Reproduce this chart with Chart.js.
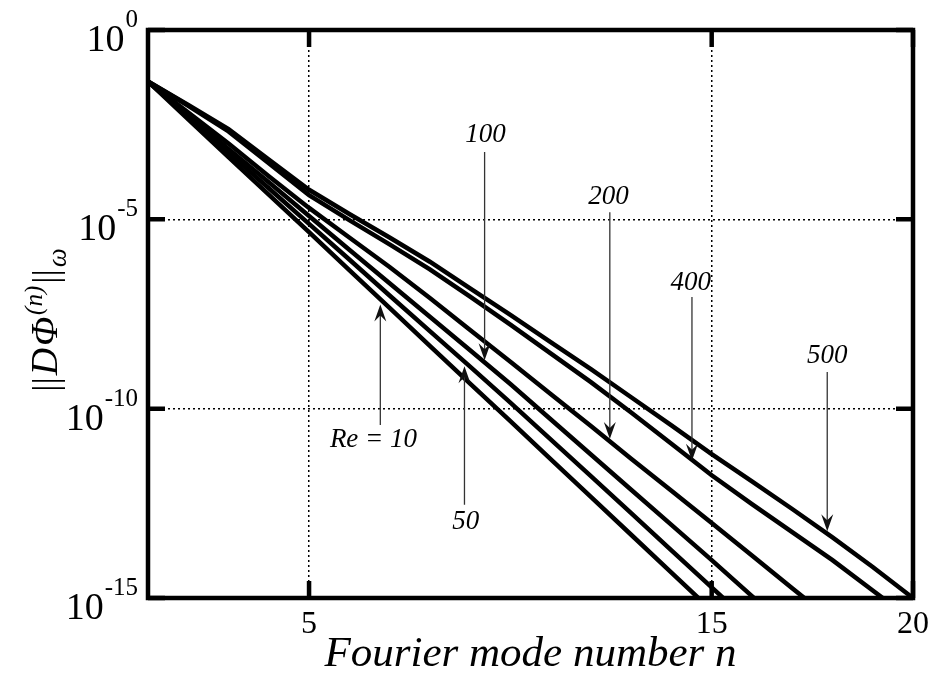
<!DOCTYPE html>
<html>
<head>
<meta charset="utf-8">
<script src="https://cdn.jsdelivr.net/npm/chart.js@4.4.0/dist/chart.umd.min.js"></script>
<style>
  html, body { margin: 0; padding: 0; background: #fff; }
  #wrap { width: 938px; height: 681px; }
</style>
</head>
<body>
<div id="wrap"><canvas id="chart" width="938" height="681"></canvas></div>
<script>
// Fourier mode numbers
const modeNumbers = [1, 2, 3, 4, 5, 6, 7, 8, 9, 10, 11, 12, 13, 14, 15, 16, 17, 18, 19, 20];

// ||D Phi^(n)||_omega, one array per Reynolds number
const norm10  = [4.37e-2, 4.37e-3, 4.37e-4, 4.47e-5, 4.57e-6, 4.57e-7, 4.57e-8, 4.57e-9, 4.57e-10, 4.68e-11, 4.68e-12, 4.68e-13, 4.68e-14, 4.68e-15, 4.68e-16];
const norm50  = [4.37e-2, 5.01e-3, 5.75e-4, 6.61e-5, 7.59e-6, 8.71e-7, 9.77e-8, 1.12e-8, 1.29e-9, 1.45e-10, 1.55e-11, 1.66e-12, 1.74e-13, 1.82e-14, 1.91e-15, 2.00e-16];
const norm100 = [4.37e-2, 5.62e-3, 7.24e-4, 9.55e-5, 1.23e-5, 1.58e-6, 2.04e-7, 2.69e-8, 3.47e-9, 4.47e-10, 5.25e-11, 6.17e-12, 7.24e-13, 8.51e-14, 1.00e-14, 1.12e-15, 1.26e-16];
const norm200 = [4.37e-2, 6.61e-3, 1.00e-3, 1.38e-4, 2.00e-5, 3.31e-6, 5.50e-7, 8.32e-8, 1.20e-8, 1.74e-9, 2.45e-10, 3.47e-11, 4.79e-12, 6.76e-13, 9.55e-14, 1.32e-14, 1.82e-15, 2.51e-16];
const norm400 = [4.37e-2, 1.00e-2, 2.09e-3, 3.02e-4, 4.37e-5, 9.55e-6, 2.19e-6, 4.79e-7, 9.12e-8, 1.66e-8, 2.88e-9, 5.01e-10, 7.94e-11, 1.18e-11, 1.74e-12, 3.02e-13, 5.50e-14, 1.00e-14, 1.58e-15, 2.51e-16];
const norm500 = [4.37e-2, 1.05e-2, 2.40e-3, 3.80e-4, 6.03e-5, 1.38e-5, 3.31e-6, 7.59e-7, 1.51e-7, 3.02e-8, 5.75e-9, 1.10e-9, 2.00e-10, 3.63e-11, 6.31e-12, 1.20e-12, 2.24e-13, 3.98e-14, 6.61e-15, 1.00e-15];

const reynolds = [10, 50, 100, 200, 400, 500];
const normSeries = [norm10, norm50, norm100, norm200, norm400, norm500];

// axis ticks
const xTickValues = [5, 15, 20];
const yTickValues = [1, 1e-5, 1e-10, 1e-15];
const yTickExponents = ['0', '-5', '-10', '-15'];

// curve labels and their arrows (data coordinates)
const annotLabels = ['100', '200', '400', '500', 'Re = 10', '50'];
const annotTextN  = [9.38, 12.44, 14.48, 17.87, 6.6, 8.89];
const annotTextV  = [1.7e-3, 3.9e-5, 2.1e-7, 2.45e-9, 1.48e-11, 1.02e-13];
const arrowN      = [9.36, 12.47, 14.51, 17.87, 6.77, 8.86];
const arrowTailV  = [6.0e-4, 1.55e-5, 8.9e-8, 9.3e-10, 3.7e-11, 2.9e-13];
const arrowTipV   = [1.9e-9, 1.58e-11, 4.2e-12, 5.75e-14, 5.6e-8, 1.32e-9];

const serif = "'Liberation Serif', 'Times New Roman', serif";

const datasets = normSeries.map((vals, k) => ({
    label: 'Re = ' + reynolds[k],
    data: vals.map((v, i) => ({ x: modeNumbers[i], y: v })),
    borderColor: '#000',
    borderWidth: 4.5,
    pointRadius: 0,
    tension: 0,
    fill: false
}));

const framePlugin = {
    id: 'frame',
    afterDraw(chart) {
        const ctx = chart.ctx;
        const { left, right, top, bottom } = chart.chartArea;
        const xs = chart.scales.x;
        const ys = chart.scales.y;

        ctx.save();
        ctx.strokeStyle = '#000';
        ctx.lineWidth = 4.5;
        ctx.strokeRect(left, top, right - left, bottom - top);

        // inner tick marks
        const tickLen = 17;
        ctx.beginPath();
        xTickValues.forEach(v => {
            const px = xs.getPixelForValue(v);
            ctx.moveTo(px, bottom); ctx.lineTo(px, bottom - tickLen);
            ctx.moveTo(px, top); ctx.lineTo(px, top + tickLen);
        });
        yTickValues.forEach(v => {
            const py = ys.getPixelForValue(v);
            ctx.moveTo(left, py); ctx.lineTo(left + tickLen, py);
            ctx.moveTo(right, py); ctx.lineTo(right - tickLen, py);
        });
        ctx.stroke();

        // y tick labels 10^k
        ctx.fillStyle = '#000';
        ctx.textBaseline = 'alphabetic';
        ctx.textAlign = 'left';
        const labelRight = 138;
        yTickValues.forEach((v, i) => {
            const py = ys.getPixelForValue(v);
            ctx.font = '25px ' + serif;
            const supW = ctx.measureText(yTickExponents[i]).width;
            ctx.font = '38px ' + serif;
            const baseW = ctx.measureText('10').width;
            const x0 = labelRight - supW - baseW - 1;
            ctx.fillText('10', x0, py + 21);
            ctx.font = '25px ' + serif;
            ctx.fillText(yTickExponents[i], x0 + baseW + 1, py - 3);
        });

        // y axis title ||D Phi^(n)||_omega
        const parts = [
            { t: '||', f: '36px ', dy: 0 },
            { t: 'D', f: 'italic 38px ', dy: 0 },
            { t: '\u03A6', f: 'italic 38px ', dy: 0 },
            { t: '(n)', f: 'italic 25px ', dy: -15 },
            { t: '||', f: '36px ', dy: 0 },
            { t: '\u03C9', f: 'italic 27px ', dy: 9 }
        ];
        const gap = 2;
        let total = 0;
        parts.forEach(p => { ctx.font = p.f + serif; p.w = ctx.measureText(p.t).width; total += p.w + gap; });
        total -= gap;
        ctx.translate(57, 320);
        ctx.rotate(-Math.PI / 2);
        let cx = -total / 2;
        parts.forEach(p => {
            ctx.font = p.f + serif;
            ctx.fillText(p.t, cx, p.dy);
            cx += p.w + gap;
        });
        ctx.restore();
    },
    afterDatasetsDraw(chart) {
        const ctx = chart.ctx;
        const xs = chart.scales.x;
        const ys = chart.scales.y;
        ctx.save();
        annotLabels.forEach((txt, i) => {
            const ax = xs.getPixelForValue(arrowN[i]);
            const y0 = ys.getPixelForValue(arrowTailV[i]);
            const y1 = ys.getPixelForValue(arrowTipV[i]);
            const dir = y1 > y0 ? 1 : -1;
            ctx.strokeStyle = '#333';
            ctx.lineWidth = 1.3;
            ctx.beginPath();
            ctx.moveTo(ax, y0);
            ctx.lineTo(ax, y1 - dir * 10);
            ctx.stroke();
            ctx.fillStyle = '#111';
            ctx.beginPath();
            ctx.moveTo(ax, y1);
            ctx.lineTo(ax - 6, y1 - dir * 17);
            ctx.lineTo(ax, y1 - dir * 11);
            ctx.lineTo(ax + 6, y1 - dir * 17);
            ctx.closePath();
            ctx.fill();

            ctx.fillStyle = '#000';
            ctx.font = 'italic 27px ' + serif;
            ctx.textAlign = 'center';
            ctx.textBaseline = 'middle';
            ctx.fillText(txt, xs.getPixelForValue(annotTextN[i]), ys.getPixelForValue(annotTextV[i]));
        });
        ctx.restore();
    }
};

const chart = new Chart(document.getElementById('chart'), {
    type: 'line',
    data: { datasets: datasets },
    options: {
        responsive: false,
        animation: false,
        devicePixelRatio: 1,
        layout: { padding: { left: 0, right: 25, top: 30, bottom: 0 } },
        plugins: { legend: { display: false }, tooltip: { enabled: false } },
        scales: {
            x: {
                type: 'linear',
                min: 1,
                max: 20,
                afterBuildTicks: s => { s.ticks = xTickValues.map(v => ({ value: v })); },
                afterFit: s => { s.height = 83; },
                ticks: { color: '#000', font: { family: serif, size: 32 }, padding: 7, maxRotation: 0, autoSkip: false },
                grid: { color: '#000', lineWidth: 1.5, drawTicks: false },
                border: { display: false, dash: [2, 3] },
                title: {
                    display: true,
                    text: 'Fourier mode number n',
                    color: '#000',
                    font: { family: serif, size: 43, style: 'italic' },
                    padding: { top: 0, bottom: 0 }
                }
            },
            y: {
                type: 'logarithmic',
                min: 1e-15,
                max: 1,
                afterBuildTicks: s => { s.ticks = yTickValues.map(v => ({ value: v })); },
                afterFit: s => { s.width = 148; },
                ticks: { display: false },
                grid: { color: '#000', lineWidth: 1.5, drawTicks: false },
                border: { display: false, dash: [2, 3] }
            }
        }
    },
    plugins: [framePlugin]
});
</script>
</body>
</html>
